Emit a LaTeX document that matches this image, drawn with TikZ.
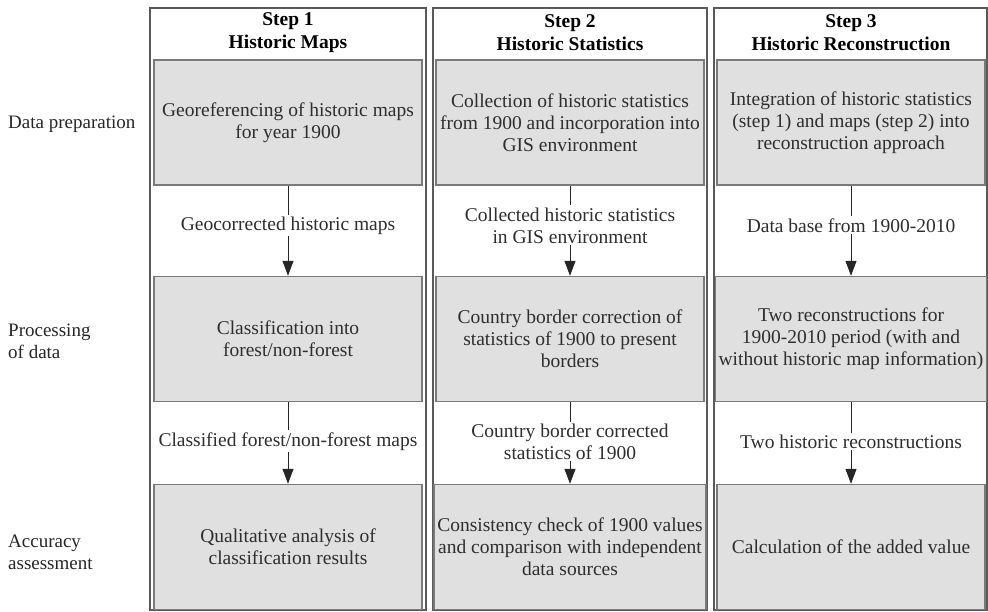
\documentclass[tikz,border=0pt]{standalone}
\usepackage{fontspec}
\setmainfont{Liberation Serif}
\usetikzlibrary{arrows.meta}

\definecolor{boxfill}{HTML}{E0E0E0}
\definecolor{boxline}{HTML}{7A7A7A}
\definecolor{frameline}{HTML}{5A5A5A}
\definecolor{textgray}{HTML}{2E2E2E}

\begin{document}
\begin{tikzpicture}[x=1pt,y=-1pt,
  task/.style={draw=boxline,line width=1.4pt,fill=boxfill,minimum width=268pt,minimum height=125pt,align=center,text=textgray,font=\fontsize{19.5}{22}\selectfont},
  steptitle/.style={align=center,font=\fontsize{19.5}{23}\selectfont\bfseries},
  rowlabel/.style={anchor=west,align=left,inner sep=0pt,text=black!85,font=\fontsize{19}{22}\selectfont},
  flowlabel/.style={fill=white,align=center,inner sep=2pt,text=textgray,font=\fontsize{19.5}{22}\selectfont},
  flow/.style={draw=black!85,line width=1pt,-{Triangle[width=11pt,length=15pt]}}]
  \useasboundingbox (0,0) rectangle (988,611);

  %columns
  \draw[frameline,line width=1.6pt] (150,8) rectangle (426,610);
  \draw[frameline,line width=1.6pt] (433,8) rectangle (707,610);
  \draw[frameline,line width=1.6pt] (714,8) rectangle (987,610);

  %titles
  \node[steptitle] (t1) at (288,33) {Step 1\\Historic Maps};
  \node[steptitle] (t2) at (570,33) {Step 2\\Historic Statistics};
  \node[steptitle] (t3) at (851,33) {Step 3\\Historic Reconstruction};

  %rows
  \node[rowlabel] (r1) at (8,124) {Data preparation};
  \node[rowlabel] (r2) at (8,341) {Processing\\of data};
  \node[rowlabel] (r3) at (8,552) {Accuracy\\assessment};

  %step 1
  \node[task] (m1) at (288,122.5) {Georeferencing of historic maps\\for year 1900};
  \node[task] (m2) at (288,339) {Classification into\\forest/non-forest};
  \node[task] (m3) at (288,547) {Qualitative analysis of\\classification results};
  \draw[flow] (m1) -- node[flowlabel,pos=0.44]{Geocorrected historic maps} (m2);
  \draw[flow] (m2) -- node[flowlabel,pos=0.48]{Classified forest/non-forest maps} (m3);

  %step 2
  \node[task] (s1) at (570,122.5) {Collection of historic statistics\\from 1900 and incorporation into\\GIS environment};
  \node[task] (s2) at (570,339) {Country border correction of\\statistics of 1900 to present\\borders};
  \node[task] (s3) at (570,547) {Consistency check of 1900 values\\and comparison with independent\\data sources};
  \draw[flow] (s1) -- node[flowlabel,pos=0.44]{Collected historic statistics\\in GIS environment} (s2);
  \draw[flow] (s2) -- node[flowlabel,pos=0.48]{Country border corrected\\statistics of 1900} (s3);

  %step 3
  \node[task] (h1) at (851,122.5) {Integration of historic statistics\\(step 1) and maps (step 2) into\\reconstruction approach};
  \node[task] (h2) at (851,339) {Two reconstructions for\\1900-2010 period (with and\\without historic map information)};
  \node[task] (h3) at (851,547) {Calculation of the added value};
  \draw[flow] (h1) -- node[flowlabel,pos=0.44]{Data base from 1900-2010} (h2);
  \draw[flow] (h2) -- node[flowlabel,pos=0.48]{Two historic reconstructions} (h3);
\end{tikzpicture}
\end{document}
